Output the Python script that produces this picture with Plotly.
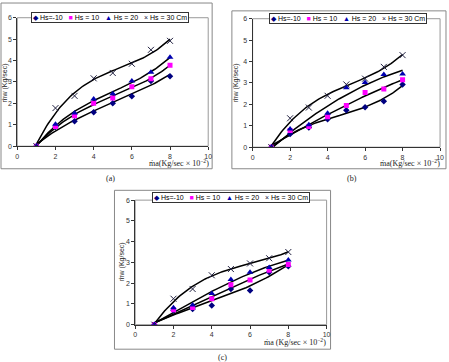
import numpy as np
import plotly.graph_objects as go

W, H = 449, 362

x_vals = [1, 2, 3, 4, 5, 6, 7, 8]

# Panel (a)
a_m10 = [0, 0.90, 1.17, 1.58, 2.01, 2.33, 3.05, 3.27]
a_10 = [0, 0.92, 1.42, 2.00, 2.25, 2.78, 3.15, 3.78]
a_20 = [0, 1.02, 1.55, 2.20, 2.45, 3.05, 3.45, 4.15]
a_30 = [0, 1.78, 2.35, 3.17, 3.42, 3.85, 4.50, 4.92]

# Panel (b)
b_m10 = [0, 0.62, 0.92, 1.30, 1.72, 1.87, 2.15, 2.93]
b_10 = [0, 0.78, 0.97, 1.42, 1.95, 2.55, 2.72, 3.15]
b_20 = [0, 0.85, 1.05, 1.58, 2.78, 3.02, 3.40, 3.42]
b_30 = [0, 1.35, 1.85, 2.40, 2.93, 3.20, 3.75, 4.30]

# Panel (c)
c_m10 = [0, 0.68, 0.75, 0.92, 1.72, 1.65, 2.52, 2.82]
c_10 = [0, 0.72, 0.83, 1.25, 1.92, 2.15, 2.62, 2.90]
c_20 = [0, 0.82, 0.95, 1.50, 2.18, 2.52, 2.75, 3.12]
c_30 = [0, 1.25, 1.72, 2.38, 2.68, 2.95, 3.20, 3.50]

# polynomial trendline orders per series (as in the spreadsheet trendlines)
a_orders = [3, 3, 3, 3]
b_orders = [3, 3, 2, 3]
c_orders = [3, 3, 3, 3]

series_names = ["Hs=-10", "Hs = 10", "Hs = 20", "Hs = 30 Cm"]
x_ticks = [0, 2, 4, 6, 8, 10]
y_ticks = [0, 1, 2, 3, 4, 5, 6]
captions = ["(a)", "(b)", "(c)"]

marker_styles = [
    dict(symbol="diamond", color="#000080", size=5),
    dict(symbol="square", color="#FF00FF", size=5),
    dict(symbol="triangle-up", color="#0000B0", size=6),
    dict(symbol="x-thin-open", color="#202040", size=6, line=dict(width=1, color="#202040")),
]

panels = [
    dict(data=[a_m10, a_10, a_20, a_30], orders=a_orders, px=(15.5, 209), py=(14, 145),
         frame=(-1, -1, 213, 168), legend=(109, 14), ytitle=(3, 80), xtitle=(212, 162),
         xt="ṁa(Kg/sec × 10<sup>−2</sup>)", cap=(110, 178)),
    dict(data=[b_m10, b_10, b_20, b_30], orders=b_orders, px=(254, 444), py=(15, 146),
         frame=(233, 7, 450, 168), legend=(351, 15), ytitle=(238, 80), xtitle=(446, 162),
         xt="ṁa(Kg/sec × 10<sup>−2</sup>)", cap=(355, 178)),
    dict(data=[c_m10, c_10, c_20, c_30], orders=c_orders, px=(135, 329), py=(200, 327),
         frame=(114, 190, 333, 352), legend=(232, 197), ytitle=(122, 263), xtitle=(330, 345),
         xt="ṁa (Kg/sec × 10<sup>−2</sup>)", cap=(223, 360)),
]

fig = go.Figure()
shapes = []
annotations = []

xs_dense = np.linspace(1, 8, 80)

for i, p in enumerate(panels):
    xa = "x" if i == 0 else f"x{i+1}"
    ya = "y" if i == 0 else f"y{i+1}"
    for j, ys in enumerate(p["data"]):
        coef = np.polyfit(x_vals, ys, p["orders"][j])
        fig.add_trace(go.Scatter(x=xs_dense, y=np.polyval(coef, xs_dense), mode="lines",
                                 line=dict(color="black", width=1.5), xaxis=xa, yaxis=ya,
                                 showlegend=False, hoverinfo="skip"))
    for j, ys in enumerate(p["data"]):
        fig.add_trace(go.Scatter(x=x_vals, y=ys, mode="markers", marker=marker_styles[j],
                                 name=series_names[j], xaxis=xa, yaxis=ya, showlegend=False))
    x0, x1 = p["px"]
    y0, y1 = p["py"]
    axx = dict(domain=[x0 / W, x1 / W], range=[0, 10], tickvals=x_ticks, showgrid=False, zeroline=False,
               showline=True, linecolor="#333", linewidth=1, ticks="outside", ticklen=3, tickcolor="#333",
               tickfont=dict(family="Arial", size=7, color="#333"), anchor=ya, fixedrange=True)
    axy = dict(domain=[1 - y1 / H, 1 - y0 / H], range=[0, 6], tickvals=y_ticks, showgrid=False, zeroline=False,
               showline=True, linecolor="#333", linewidth=1, ticks="outside", ticklen=3, tickcolor="#333",
               tickfont=dict(family="Arial", size=7, color="#333"), anchor=xa, fixedrange=True)
    key = "" if i == 0 else str(i + 1)
    fig.update_layout(**{f"xaxis{key}": axx, f"yaxis{key}": axy})
    # plot-area border (gray)
    shapes.append(dict(type="rect", xref="paper", yref="paper", x0=x0 / W, x1=x1 / W,
                       y0=1 - y1 / H, y1=1 - y0 / H, line=dict(color="#999", width=1), layer="below"))
    # outer frame
    fx0, fy0, fx1, fy1 = p["frame"]
    shapes.append(dict(type="rect", xref="paper", yref="paper", x0=fx0 / W, x1=fx1 / W,
                       y0=1 - fy1 / H, y1=1 - fy0 / H, line=dict(color="#888", width=1), layer="below"))
    # legend as text box
    lx, ly = p["legend"]
    legend_text = ("<span style='color:#000080'>◆</span> Hs=-10   "
                   "<span style='color:#FF00FF'>■</span> Hs = 10   "
                   "<span style='color:#0000B0'>▲</span> Hs = 20   "
                   "<span style='color:#202040'>×</span> Hs = 30 Cm")
    annotations.append(dict(x=lx / W, y=1 - ly / H, xref="paper", yref="paper", text=legend_text,
                            showarrow=False, xanchor="center", yanchor="middle",
                            font=dict(family="Arial", size=7, color="black"),
                            bgcolor="white", bordercolor="#333", borderwidth=1, borderpad=1))
    tx, ty = p["ytitle"]
    annotations.append(dict(x=tx / W, y=1 - ty / H, xref="paper", yref="paper", text="ṁw (Kg/sec)",
                            textangle=-90, showarrow=False, xanchor="center", yanchor="middle",
                            font=dict(family="Arial", size=7, color="#222")))
    tx, ty = p["xtitle"]
    annotations.append(dict(x=tx / W, y=1 - ty / H, xref="paper", yref="paper", text=p["xt"],
                            showarrow=False, xanchor="right", yanchor="middle",
                            font=dict(family="Liberation Serif", size=8, color="#222")))
    cx, cy = p["cap"]
    annotations.append(dict(x=cx / W, y=1 - cy / H, xref="paper", yref="paper", text=captions[i],
                            showarrow=False, xanchor="center", yanchor="middle",
                            font=dict(family="Liberation Serif", size=8, color="#222")))

fig.update_layout(width=W, height=H, margin=dict(l=0, r=0, t=0, b=0), plot_bgcolor="white",
                  paper_bgcolor="white", showlegend=False, shapes=shapes, annotations=annotations)

fig.write_html("out.html")
